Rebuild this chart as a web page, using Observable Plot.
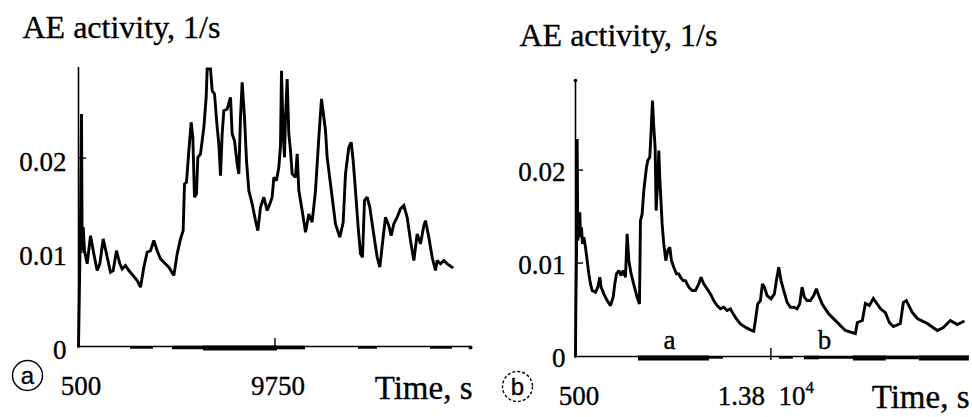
<!DOCTYPE html>
<html>
<head>
<meta charset="utf-8">
<script src="https://cdn.jsdelivr.net/npm/d3@7"></script>
<script src="https://cdn.jsdelivr.net/npm/@observablehq/plot@0.6"></script>
<style>
  html, body { margin: 0; padding: 0; background: #fff; }
  #wrap { position: relative; width: 972px; height: 417px; overflow: hidden; background: #fff; }
  #wrap > div { position: absolute; top: 0; }
</style>
</head>
<body>
<div id="wrap"><div id="pa" style="left:0"></div><div id="pb" style="left:486px"></div></div>
<script>
// ---------- data ----------
const yTitle = "AE activity, 1/s";
const xTitle = "Time, s";
const yTicks = [0, 0.01, 0.02];
const yTickLabels = ["0", "0.01", "0.02"];

// panel (a)
const aPanelLetter = "a";
const aXDomain = [500, 18905];
const aXTicks = [500, 9750];
const aXTickLabels = ["500", "9750"];
const aTime = [500,547,594,641,672,719,782,907,1064,1220,
1377,1502,1658,1815,2003,2128,2284,2441,2550,2707,
2863,3067,3255,3411,3568,3724,3881,4037,4194,4350,
4507,4741,4976,5133,5289,5414,5477,5571,5680,5790,
5868,5946,6040,6103,6228,6385,6494,6541,6698,6776,
6886,7011,7089,7167,7245,7324,7480,7637,7715,7824,
7950,8028,8106,8184,8294,8388,8497,8654,8810,8920,
9045,9202,9358,9483,9593,9671,9796,9906,9984,10031,
10109,10172,10219,10297,10375,10454,10532,10688,10767,10845,
11001,11158,11314,11471,11627,11784,11909,12019,12097,12175,
12410,12566,12770,12927,13036,13192,13302,13396,13505,13630,
13740,13834,13928,14053,14178,14335,14523,14648,14804,14914,
15070,15180,15305,15462,15618,15775,15931,16088,16244,16401,
16557,16714,16792,16948,17105,17261,17340,17496,17653,17809,
18044];
const aRate = [0,0.00667,0.01376,0.02475,0.01021,0.0127,0.0102,0.0088,0.0118,0.00986,
0.00809,0.0088,0.01145,0.00986,0.00791,0.00809,0.0102,0.0088,0.00826,0.00862,
0.00809,0.00755,0.00702,0.00631,0.00844,0.01004,0.0102,0.01128,0.0102,0.00933,
0.00897,0.00844,0.00755,0.00986,0.01145,0.01234,0.0173,0.01748,0.02085,0.02387,
0.02227,0.01589,0.01624,0.02014,0.0205,0.02333,0.02652,0.02954,0.02954,0.02723,
0.02688,0.02333,0.02156,0.01819,0.02262,0.02511,0.02528,0.02652,0.02262,0.02191,
0.01943,0.01837,0.0244,0.02812,0.0244,0.01979,0.0166,0.01518,0.0134,0.01234,
0.01482,0.01589,0.01447,0.01518,0.01589,0.01801,0.01766,0.01908,0.02138,0.02936,
0.02262,0.02014,0.0244,0.02848,0.02262,0.02085,0.01837,0.01801,0.0205,0.0166,
0.01447,0.01216,0.01411,0.01323,0.0166,0.02227,0.02635,0.0244,0.02298,0.02014,
0.01589,0.01305,0.01163,0.01323,0.01837,0.02121,0.02174,0.01979,0.0166,0.0127,
0.00986,0.0095,0.01553,0.01589,0.01482,0.01234,0.0095,0.00844,0.01163,0.01376,
0.01287,0.01181,0.01305,0.01376,0.01465,0.015,0.01376,0.01128,0.00915,0.01199,
0.01092,0.01287,0.0134,0.01163,0.0095,0.00809,0.00915,0.0088,0.00915,0.0088,
0.00844];
const aBandsLight  = [[2941,4021],[13646,14538],[17026,18059]];
const aBandsMedium = [[4913,6369],[9843,11158]];
const aBandsHeavy  = [[6369,9843]];
const aBandLetters = [];
const aBandLetterTimes = [];

// panel (b)
const bPanelLetter = "b";
const bXDomain = [500, 27250];
const bXTicks = [500, 13800];
const bXTickLabels = ["500", "1.38\u00a0\u00a010^4"];
const bTime = [500,520,568,613,658,726,794,839,907,975,
1065,1179,1292,1405,1518,1631,1857,2015,2151,2242,
2423,2649,2875,3056,3169,3282,3441,3599,3735,3893,
4006,4119,4277,4504,4685,4843,4911,5024,5137,5318,
5408,5544,5635,5725,5816,5906,5974,6087,6155,6223,
6313,6381,6494,6630,6766,6901,7014,7173,7354,7512,
7625,7806,7965,8191,8417,8643,8869,9028,9209,9435,
9661,9887,10113,10340,10566,10792,11018,11199,11425,11697,
12036,12375,12602,12715,12873,13054,13190,13325,13506,13778,
14004,14140,14298,14456,14637,14864,15090,15316,15542,15723,
15882,16040,16221,16447,16673,16854,17013,17239,17465,17691,
18030,18370,18822,19501,19636,19976,20179,20451,20722,21197,
21537,21808,22079,22554,22758,22962,23369,23708,24387,25065,
25473,25948,26422,26830];
const bRate = [0,0.0046,0.011,0.0234,0.01247,0.01462,0.01552,0.01283,0.01391,0.01211,
0.01283,0.01176,0.01032,0.00889,0.00781,0.0071,0.00692,0.00746,0.00853,0.00746,
0.00674,0.00602,0.00548,0.00638,0.00781,0.00889,0.00925,0.00871,0.00925,0.00853,
0.01319,0.01032,0.00889,0.00746,0.00638,0.00566,0.01462,0.01534,0.01785,0.02036,
0.02108,0.02143,0.0243,0.02753,0.02466,0.02251,0.0157,0.01892,0.02215,0.01928,
0.01642,0.01427,0.01211,0.01032,0.0114,0.01176,0.01032,0.00961,0.00889,0.00889,
0.00853,0.00817,0.00817,0.00746,0.0071,0.0071,0.00781,0.00853,0.00781,0.00728,
0.00674,0.00602,0.00548,0.00513,0.0053,0.00495,0.00513,0.00459,0.00405,0.00351,
0.00315,0.00287,0.00272,0.00387,0.00566,0.00602,0.00781,0.00746,0.00656,0.0062,
0.00674,0.00817,0.00961,0.00817,0.0071,0.00584,0.0053,0.0053,0.00513,0.00566,
0.00746,0.00638,0.00602,0.00602,0.00656,0.00728,0.00656,0.00566,0.00513,0.00459,
0.00405,0.00351,0.0028,0.00247,0.00366,0.00387,0.0057,0.00548,0.00624,0.00516,
0.00473,0.00366,0.00323,0.00355,0.00581,0.00602,0.00473,0.00409,0.00355,0.0028,
0.00312,0.00387,0.00344,0.00376];
const bBandsLight  = [[9593,10543],[14343,15293],[17058,19365]];
const bBandsMedium = [[16040,17058],[21604,23844]];
const bBandsHeavy  = [[4775,9593],[19365,21604],[23844,27237]];
const bBandLetters = ["a", "b"];
const bBandLetterTimes = [6879, 17397];

// ---------- drawing ----------
const SERIF = "'Liberation Serif', 'Times New Roman', 'DejaVu Serif', serif";
const SANS = "'Liberation Sans', Arial, 'DejaVu Sans', sans-serif";
const TEXT_STROKE = 0.35;

function panel(cfg) {
  const series = cfg.time.map((t, i) => ({t, v: cfg.rate[i]}));
  const band = arr => arr.map(([s, e]) => ({s, e}));
  const x0 = cfg.xDomain[0];
  // inward ticks drawn through the plot's own scales
  const inwardTicks = (index, scales) => {
    const g = d3.create("svg:g").attr("stroke", "black").attr("stroke-width", 1.4);
    const px0 = scales.x(x0), py0 = scales.y(0);
    yTicks.filter(v => v > 0).forEach(v =>
      g.append("line").attr("x1", px0).attr("x2", px0 + 8).attr("y1", scales.y(v)).attr("y2", scales.y(v)));
    cfg.xTicks.filter(t => t !== x0).forEach(t =>
      g.append("line").attr("x1", scales.x(t)).attr("x2", scales.x(t)).attr("y1", py0 + cfg.xTickBelow).attr("y2", py0 - 8));
    return g.node();
  };
  // x tick labels (with "^" superscript support) placed through the x scale
  const xTickText = (index, scales) => {
    const g = d3.create("svg:g").attr("font-size", 27).attr("text-anchor", "middle")
      .attr("fill", "black").attr("stroke", "black").attr("stroke-width", TEXT_STROKE);
    const py0 = scales.y(0);
    cfg.xTicks.forEach((t, i) => {
      const [base, sup] = cfg.xTickLabels[i].split("^");
      const txt = g.append("text").attr("x", scales.x(t) + cfg.xLabelDx[i]).attr("y", py0 + cfg.xLabelDy);
      txt.append("tspan").text(base);
      if (sup) txt.append("tspan").attr("font-size", 17).attr("dy", -12).text(sup);
    });
    return g.node();
  };
  const ts = {fill: "black", stroke: "black", strokeWidth: TEXT_STROKE};
  return Plot.plot({
    width: 486, height: 417,
    marginLeft: cfg.m[0], marginTop: cfg.m[1], marginRight: cfg.m[2], marginBottom: cfg.m[3],
    style: {fontFamily: SERIF, background: "white", color: "black", overflow: "visible"},
    x: {domain: cfg.xDomain, axis: null},
    y: {domain: [0, 0.0297], axis: null},
    marks: [
      Plot.ruleX([x0], {stroke: "black", strokeWidth: 1.6}),
      Plot.ruleY([0], {stroke: "black", strokeWidth: 1.5}),
      Plot.ruleY(band(cfg.light), {x1: "s", x2: "e", y: 0, stroke: "black", strokeWidth: 2.4, dy: 1}),
      Plot.ruleY(band(cfg.medium), {x1: "s", x2: "e", y: 0, stroke: "black", strokeWidth: 3.6, dy: 1}),
      Plot.ruleY(band(cfg.heavy), {x1: "s", x2: "e", y: 0, stroke: "black", strokeWidth: 5, dy: 1.5}),
      inwardTicks,
      cfg.axisDot === "y"
        ? Plot.dot([0], {frameAnchor: "top-left", r: 1.8, fill: "black"})
        : Plot.dot([0], {frameAnchor: "bottom-right", r: 2, fill: "black", dy: 1}),
      Plot.line(series, {x: "t", y: "v", stroke: "black", strokeWidth: 2.9, strokeLinejoin: "miter", strokeMiterlimit: 2}),
      Plot.text(cfg.letters.map((l, i) => ({l, t: cfg.letterTimes[i]})), {x: "t", y: 0, text: "l", dy: -8, lineAnchor: "bottom", fontSize: 27, ...ts}),
      Plot.text(yTicks.map((v, i) => ({v, l: yTickLabels[i]})), {x: x0, y: "v", text: "l", textAnchor: "end", lineAnchor: "middle", dx: cfg.yLabelDx, dy: cfg.yLabelDy, fontSize: 27, ...ts}),
      xTickText,
      Plot.text([yTitle], {text: d => d, frameAnchor: "top-left", textAnchor: "start", lineAnchor: "bottom", dx: cfg.titleD[0], dy: cfg.titleD[1], fontSize: 32, ...ts}),
      Plot.text([xTitle], {text: d => d, frameAnchor: "bottom-right", textAnchor: "end", lineAnchor: "bottom", dx: cfg.xTitleD[0], dy: cfg.xTitleD[1], fontSize: 33, ...ts}),
      Plot.dot([0], {frameAnchor: "bottom-left", dx: cfg.circleD[0], dy: cfg.circleD[1], r: 15, stroke: "black", strokeWidth: 1.4, fill: "none", strokeDasharray: cfg.circleDash}),
      Plot.text([cfg.panelLetter], {text: d => d, frameAnchor: "bottom-left", dx: cfg.circleD[0], dy: cfg.circleD[1] + 1, lineAnchor: "middle", textAnchor: "middle", fontFamily: SANS, fontSize: 24, ...ts})
    ]
  });
}

document.getElementById("pa").append(panel({
  time: aTime, rate: aRate, xDomain: aXDomain, xTicks: aXTicks, xTickLabels: aXTickLabels,
  light: aBandsLight, medium: aBandsMedium, heavy: aBandsHeavy,
  letters: aBandLetters, letterTimes: aBandLetterTimes, panelLetter: aPanelLetter,
  m: [78, 67, 16, 71], yLabelDx: -12, yLabelDy: 4, xLabelDx: [3, 3], xLabelDy: 49,
  titleD: [-56, -30], xTitleD: [2, 52], circleD: [-51, 29], circleDash: null,
  axisDot: "x", xTickBelow: 0
}));
document.getElementById("pb").append(panel({
  time: bTime, rate: bRate, xDomain: bXDomain, xTicks: bXTicks, xTickLabels: bXTickLabels,
  light: bBandsLight, medium: bBandsMedium, heavy: bBandsHeavy,
  letters: bBandLetters, letterTimes: bBandLetterTimes, panelLetter: bPanelLetter,
  m: [89, 80, 3, 61], yLabelDx: -10, yLabelDy: 2, xLabelDx: [4, -5], xLabelDy: 49,
  titleD: [-56, -35], xTitleD: [0, 51], circleD: [-58, 30], circleDash: "3,2",
  axisDot: "y", xTickBelow: 4
}));
</script>
</body>
</html>
